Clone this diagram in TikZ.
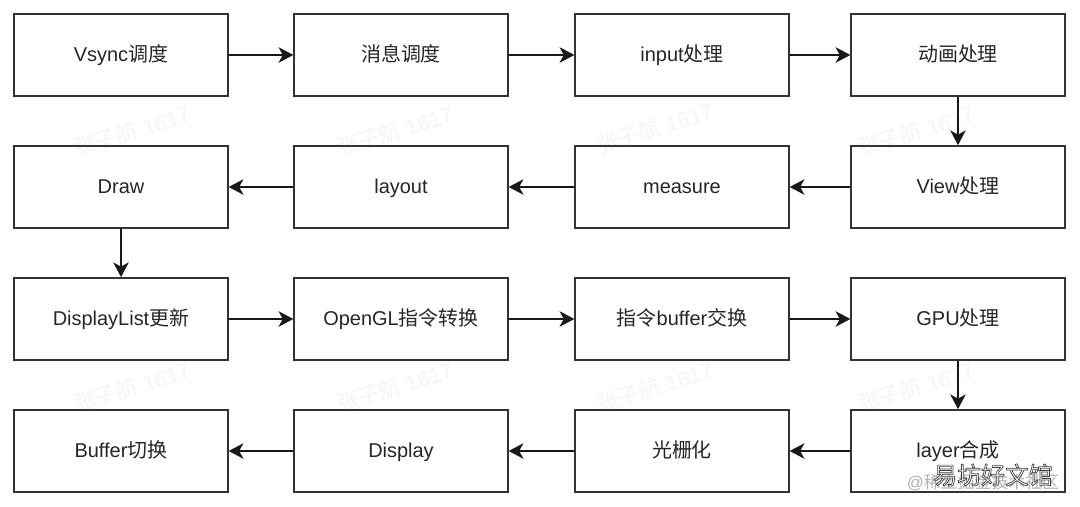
\documentclass[tikz,border=0pt]{standalone}
\usepackage{fontspec}
\setmainfont{Liberation Sans}
\newfontfamily\cjk{Noto Sans CJK SC}
\newfontfamily\cjkstroke[FakeBold=3]{Noto Sans CJK SC}
\newcommand{\zh}[1]{{\cjk #1}}
\usetikzlibrary{arrows.meta}

\definecolor{linegray}{HTML}{333333}
\definecolor{markgray}{HTML}{F5F5F5}

\begin{document}
\begin{tikzpicture}[x=0.025cm, y=-0.025cm, >={Stealth[length=10.5pt,width=11pt,inset=3pt]},
	stepbox/.style={draw=linegray, line width=1.4pt, minimum width=151.7pt, minimum height=58.1pt, inner sep=0pt, text=black!85, text height=12.8pt, text depth=3pt, font=\fontsize{14.2}{16}\selectfont},
	flow/.style={->, draw=black!90, line width=1.2pt},
	markword/.style={text=markgray, rotate=17, font=\fontsize{15.5}{18}\selectfont}]

	% page
	\useasboundingbox[fill=white] (0,0) rectangle (1080,507);

	% faint marks between the rows
	\node[markword] (mark1) at (132,131) {\zh{张子航} 1617};
	\node[markword] (mark2) at (395,131) {\zh{张子航} 1617};
	\node[markword] (mark3) at (655,128) {\zh{张子航} 1617};
	\node[markword] (mark4) at (916,131) {\zh{张子航} 1617};
	\node[markword] (mark5) at (132,387) {\zh{张子航} 1617};
	\node[markword] (mark6) at (395,387) {\zh{张子航} 1617};
	\node[markword] (mark7) at (655,387) {\zh{张子航} 1617};
	\node[markword] (mark8) at (916,387) {\zh{张子航} 1617};

	% first row
	\node[stepbox] (vsync) at (121,55) {Vsync\zh{调度}};
	\node[stepbox] (msg) at (401,55) {\zh{消息调度}};
	\node[stepbox] (input) at (682,55) {input\zh{处理}};
	\node[stepbox] (anim) at (958,55) {\zh{动画处理}};

	% second row
	\node[stepbox] (draw) at (121,187) {Draw};
	\node[stepbox] (layout) at (401,187) {layout};
	\node[stepbox] (measure) at (682,187) {measure};
	\node[stepbox] (view) at (958,187) {View\zh{处理}};

	% third row
	\node[stepbox] (dlist) at (121,319) {DisplayList\zh{更新}};
	\node[stepbox] (opengl) at (401,319) {OpenGL\zh{指令转换}};
	\node[stepbox] (swap) at (682,319) {\zh{指令}buffer\zh{交换}};
	\node[stepbox] (gpu) at (958,319) {GPU\zh{处理}};

	% fourth row
	\node[stepbox] (bufswitch) at (121,451) {Buffer\zh{切换}};
	\node[stepbox] (display) at (401,451) {Display};
	\node[stepbox] (raster) at (682,451) {\zh{光栅化}};
	\node[stepbox] (layer) at (958,451) {layer\zh{合成}};

	% connectors
	\draw[flow] (vsync) -- (msg);
	\draw[flow] (msg) -- (input);
	\draw[flow] (input) -- (anim);
	\draw[flow] (anim) -- (view);
	\draw[flow] (view) -- (measure);
	\draw[flow] (measure) -- (layout);
	\draw[flow] (layout) -- (draw);
	\draw[flow] (draw) -- (dlist);
	\draw[flow] (dlist) -- (opengl);
	\draw[flow] (opengl) -- (swap);
	\draw[flow] (swap) -- (gpu);
	\draw[flow] (gpu) -- (layer);
	\draw[flow] (layer) -- (raster);
	\draw[flow] (raster) -- (display);
	\draw[flow] (display) -- (bufswitch);

	% stamp in the corner
	\node[text=black!30, font=\fontsize{12}{14}\selectfont] (stamp) at (983,482) {@\zh{稀土掘金技术社区}};
	\node[text=white, font=\fontsize{17}{19}\selectfont] (site) at (993,475) {\special{pdf:code 0.25 G}{\cjkstroke 易坊好文馆}};

\end{tikzpicture}
\end{document}
